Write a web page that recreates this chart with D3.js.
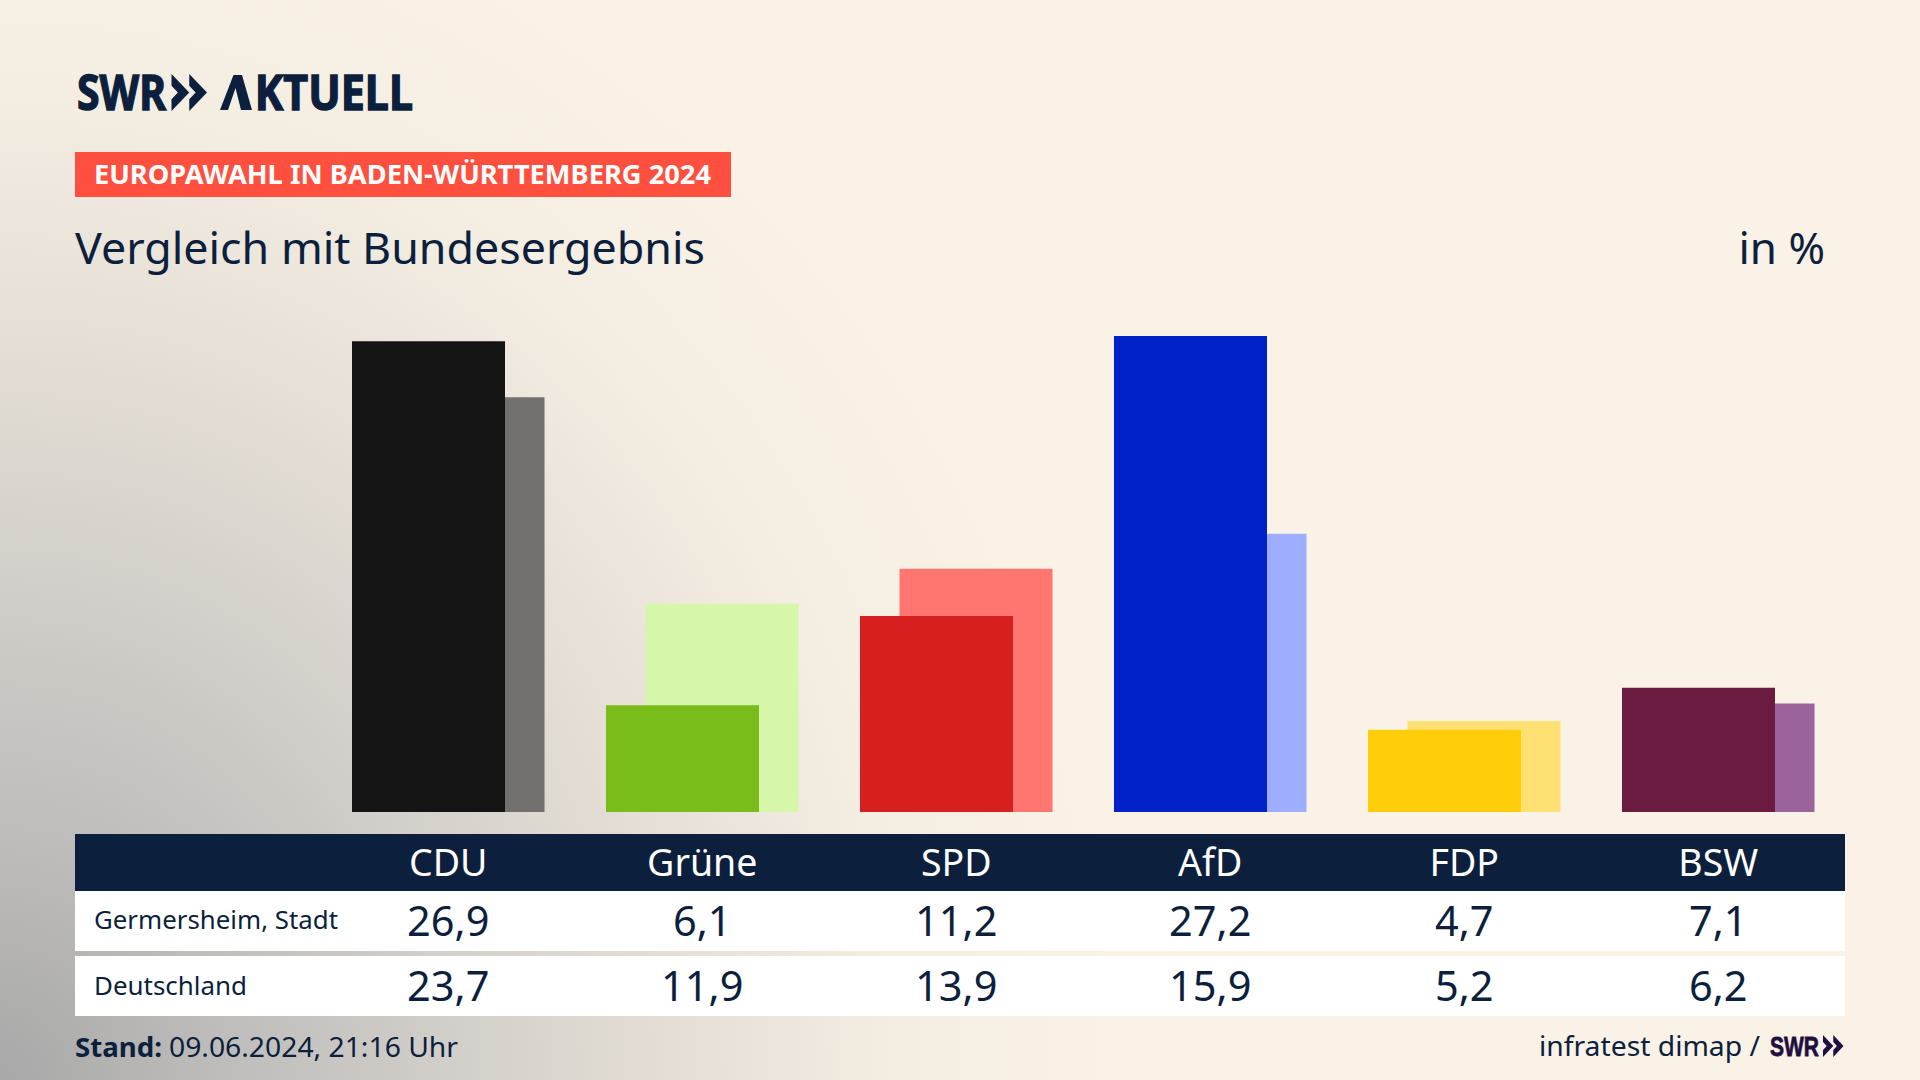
<!DOCTYPE html>
<html>
<head>
<meta charset="utf-8">
<script src="https://cdn.jsdelivr.net/npm/d3@7"></script>
<style>
  html, body { margin: 0; padding: 0; background: #faf2e7; overflow: hidden; }
  text { font-family: "Noto Sans", sans-serif; }
</style>
</head>
<body>
<div id="wahl-chart"></div>
<script>
function drawChart() {

  // 1. The data
  const results = [
    {party: "CDU",   local: 26.9, national: 23.7, color: "#141414", light: "#72716f"},
    {party: "Grüne", local: 6.1,  national: 11.9, color: "#7abd1a", light: "#d6f6a9"},
    {party: "SPD",   local: 11.2, national: 13.9, color: "#d81f1f", light: "#ff7570"},
    {party: "AfD",   local: 27.2, national: 15.9, color: "#0022c8", light: "#9fadff"},
    {party: "FDP",   local: 4.7,  national: 5.2,  color: "#ffcd0a", light: "#ffe173"},
    {party: "BSW",   local: 7.1,  national: 6.2,  color: "#6b1a40", light: "#9b629b"},
  ]
  const rows = [
    {name: "Germersheim, Stadt", key: "local", top: 891, height: 60, labelY: 929, labelWidth: 244},
    {name: "Deutschland", key: "national", top: 956, height: 60, labelY: 995, labelWidth: 153},
  ]
  const navy = "#0c1f3d"
  const format = d3.format(".1f")
  const comma = v => format(v).replace(".", ",")

  // 2. Dimensions
  const dimensions = {width: 1920, height: 1080, baseline: 812, tableLeft: 75, tableRight: 1845}

  const wrapper = d3.select("#wahl-chart")
    .append("svg")
      .attr("width", dimensions.width)
      .attr("height", dimensions.height)
      .style("display", "block")

  // 3. Background, cream with a grey glow from the lower left corner
  const defs = wrapper.append("defs")
  const glow = defs.append("radialGradient")
      .attr("id", "glow")
      .attr("gradientUnits", "userSpaceOnUse")
      .attr("cx", 0).attr("cy", 0).attr("r", 1)
      .attr("gradientTransform", "translate(0 1080) scale(1120 1230)")
  glow.selectAll("stop")
    .data([
      [0, "#a8a8a8"], [0.2, "#bebdbb"], [0.4, "#d2cec9"],
      [0.6, "#e4ded5"], [0.8, "#f4ede2"], [1, "#faf2e7"],
    ])
    .join("stop")
      .attr("offset", d => d[0])
      .attr("stop-color", d => d[1])

  wrapper.append("rect").attr("width", 1920).attr("height", 1080).attr("fill", "url(#glow)")

  // 4. Scales
  const xScale = d3.scaleBand()
    .domain(results.map(d => d.party))
    .range([352, 1814.5])
    .paddingInner(0.242)

  const yScale = d3.scaleLinear()
    .domain([0, 27.2])
    .range([dimensions.baseline, 336])

  const barWidth = 153
  const lightOffset = xScale.bandwidth() - barWidth

  // 5. Bars, national behind and local in front
  wrapper.append("g").selectAll("rect")
    .data(results)
    .join("rect")
      .attr("x", d => xScale(d.party) + lightOffset)
      .attr("y", d => yScale(d.national))
      .attr("width", barWidth)
      .attr("height", d => yScale(0) - yScale(d.national))
      .attr("fill", d => d.light)

  wrapper.append("g").selectAll("rect")
    .data(results)
    .join("rect")
      .attr("x", d => xScale(d.party))
      .attr("y", d => yScale(d.local))
      .attr("width", barWidth)
      .attr("height", d => yScale(0) - yScale(d.local))
      .attr("fill", d => d.color)

  // 6. Table under the bars
  const table = wrapper.append("g")
  const tableWidth = dimensions.tableRight - dimensions.tableLeft

  table.append("rect")
    .attr("x", dimensions.tableLeft).attr("y", 834)
    .attr("width", tableWidth).attr("height", 57)
    .attr("fill", navy)

  table.selectAll("rect.row")
    .data(rows)
    .join("rect")
      .attr("class", "row")
      .attr("x", dimensions.tableLeft)
      .attr("y", d => d.top)
      .attr("width", tableWidth)
      .attr("height", d => d.height)
      .attr("fill", "#ffffff")

  table.selectAll("text.head")
    .data(results)
    .join("text")
      .attr("class", "head")
      .attr("x", d => xScale(d.party) + xScale.bandwidth() / 2)
      .attr("y", 875.5)
      .attr("text-anchor", "middle")
      .attr("fill", "#ffffff")
      .style("font-size", "37.5px")
      .text(d => d.party)

  rows.forEach(row => {
    table.append("text")
      .attr("x", 94)
      .attr("y", row.labelY)
      .attr("fill", navy)
      .attr("textLength", row.labelWidth)
      .attr("lengthAdjust", "spacingAndGlyphs")
      .style("font-size", "26px")
      .text(row.name)

    table.append("g").selectAll("text")
      .data(results)
      .join("text")
        .attr("x", d => xScale(d.party) + xScale.bandwidth() / 2)
        .attr("y", row.top + 44.5)
        .attr("text-anchor", "middle")
        .attr("fill", navy)
        .style("font-size", "41.5px")
        .text(d => comma(d[row.key]))
  })

  // 7. Heading and logo
  const logoText = wrapper.append("g")
      .attr("fill", navy)
      .attr("stroke", navy)
      .attr("stroke-width", 1.4)
      .style("font-family", "'Liberation Sans Narrow', 'Liberation Sans'")
      .style("font-weight", 700)
      .style("font-size", "48px")

  logoText.append("text")
    .attr("x", 77).attr("y", 110)
    .attr("textLength", 89).attr("lengthAdjust", "spacingAndGlyphs")
    .text("SWR")

  // the A of the logo has no crossbar, so its glyph stays hidden under a drawn one
  const aktuell = logoText.append("text")
    .attr("x", 220).attr("y", 110)
    .attr("textLength", 193).attr("lengthAdjust", "spacingAndGlyphs")
  aktuell.append("tspan")
    .attr("fill-opacity", 0).attr("stroke-opacity", 0)
    .style("font-size", "56px")
    .text("A")
  aktuell.append("tspan").text("KTUELL")

  const lambda = d3.line()
  wrapper.append("path")
    .attr("d", lambda([[220, 110], [233.5, 75], [242, 75], [252, 110], [241, 110], [235.5, 88], [228, 110]]) + "Z")
    .attr("fill", navy)

  // chevrons of the logo
  function chevrons(x, y, w, h, color) {
    const one = w * 0.5
    const path = d3.path()
    ;[0, w - one].forEach(dx => {
      path.moveTo(x + dx, y)
      path.lineTo(x + dx + one, y + h / 2)
      path.lineTo(x + dx, y + h)
      path.lineTo(x + dx, y + h * 0.68)
      path.lineTo(x + dx + one * 0.36, y + h / 2)
      path.lineTo(x + dx, y + h * 0.32)
      path.closePath()
    })
    wrapper.append("path").attr("d", path.toString()).attr("fill", color)
  }
  chevrons(171.5, 74, 35.5, 37, navy)

  wrapper.append("rect")
    .attr("x", 75).attr("y", 152)
    .attr("width", 656).attr("height", 45)
    .attr("fill", "#ff4f3e")

  wrapper.append("text")
    .attr("x", 94).attr("y", 184)
    .attr("fill", "#ffffff")
    .attr("textLength", 617).attr("lengthAdjust", "spacingAndGlyphs")
    .style("font-weight", 700).style("font-size", "26px")
    .text("EUROPAWAHL IN BADEN-WÜRTTEMBERG 2024")

  wrapper.append("text")
    .attr("x", 75).attr("y", 264)
    .attr("fill", navy)
    .attr("textLength", 630).attr("lengthAdjust", "spacingAndGlyphs")
    .style("font-size", "44px")
    .text("Vergleich mit Bundesergebnis")

  wrapper.append("text")
    .attr("x", 1825).attr("y", 264)
    .attr("text-anchor", "end")
    .attr("fill", navy)
    .style("font-size", "44px")
    .text("in %")

  // 8. Footer
  wrapper.append("text")
    .attr("x", 75).attr("y", 1057)
    .attr("fill", navy)
    .attr("textLength", 87).attr("lengthAdjust", "spacingAndGlyphs")
    .style("font-weight", 700).style("font-size", "27px")
    .text("Stand:")

  wrapper.append("text")
    .attr("x", 169).attr("y", 1057)
    .attr("fill", navy)
    .attr("textLength", 289).attr("lengthAdjust", "spacingAndGlyphs")
    .style("font-size", "27px")
    .text("09.06.2024, 21:16 Uhr")

  wrapper.append("text")
    .attr("x", 1539).attr("y", 1056)
    .attr("fill", navy)
    .attr("textLength", 221).attr("lengthAdjust", "spacingAndGlyphs")
    .style("font-size", "28px")
    .text("infratest dimap /")

  wrapper.append("text")
    .attr("x", 1770).attr("y", 1056)
    .attr("fill", "#1f0f3f")
    .attr("stroke", "#1f0f3f")
    .attr("stroke-width", 0.8)
    .attr("textLength", 49).attr("lengthAdjust", "spacingAndGlyphs")
    .style("font-family", "'Liberation Sans Narrow', 'Liberation Sans'")
    .style("font-weight", 700).style("font-size", "28px")
    .text("SWR")

  chevrons(1823, 1035, 20.5, 22, "#1f0f3f")
}

drawChart()
</script>
</body>
</html>
